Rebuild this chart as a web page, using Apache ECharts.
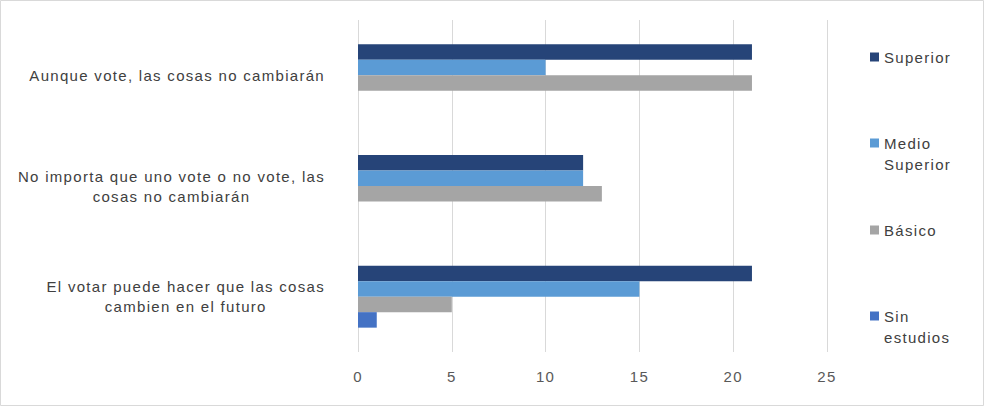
<!DOCTYPE html>
<html>
<head>
<meta charset="utf-8">
<script src="https://cdn.jsdelivr.net/npm/echarts@6/dist/echarts.min.js"></script>
<style>
html,body{margin:0;padding:0;background:#fff;}
#chart{width:984px;height:406px;}
#chart svg text{letter-spacing:1.3px;}
</style>
</head>
<body>
<div id="chart"></div>
<script>
const categories = [
  'Aunque vote, las cosas no cambiarán',
  'No importa que uno vote o no vote, las\ncosas no cambiarán',
  'El votar puede hacer que las cosas\ncambien en el futuro'
];
const seriesNames = ['Superior', 'Medio Superior', 'Básico', 'Sin estudios'];
const superior = [21, 12, 21];
const medioSuperior = [10, 12, 15];
const basico = [21, 13, 5];
const sinEstudios = [0, 0, 1];
const xTicks = [0, 5, 10, 15, 20, 25];
const colors = ['#264478', '#5B9BD5', '#A5A5A5', '#4472C4'];

const FONT = '"Liberation Sans", Arial, sans-serif';
const TXT = '#404040';
const AXT = '#595959';
const SPACING = 1.3;
const values = [superior, medioSuperior, basico, sinEstudios];

// make text measurement aware of the letter spacing applied by CSS
const mctx = document.createElement('canvas').getContext('2d');
if (echarts.setPlatformAPI) {
  echarts.setPlatformAPI({
    measureText: function (text, font) {
      mctx.font = font || '12px sans-serif';
      const m = mctx.measureText(text);
      return {width: m.width + (text ? text.length * SPACING : 0)};
    }
  });
}

// legend markers: square centred for one-line entries, at the first line for two-line entries
const ICON_MID = 'path://M0,0M9,30M0,10.5h9v9h-9z';
const ICON_TOP = 'path://M0,0M9,30M0,0h9v9h-9z';

function legendBlock(names, top) {
  return {
    orient: 'vertical',
    left: 870, top: top, padding: 0,
    itemWidth: 9, itemHeight: 30, itemGap: 60.5,
    data: names.map(n => ({name: n, icon: n.indexOf(' ') > 0 ? ICON_TOP : ICON_MID})),
    textStyle: {
      fontFamily: FONT, fontSize: 15, color: TXT,
      width: 80, overflow: 'break', lineHeight: 21
    }
  };
}

const chart = echarts.init(document.getElementById('chart'), null, {renderer: 'svg'});
chart.setOption({
  animation: false,
  backgroundColor: '#fff',
  textStyle: {fontFamily: FONT},
  graphic: [{
    type: 'rect', silent: true, z: 100,
    shape: {x: 0.5, y: 0.5, width: 983, height: 405},
    style: {fill: 'none', stroke: '#D9D9D9', lineWidth: 1}
  }],
  grid: {left: 358, right: 157, top: 20, bottom: 54, containLabel: false},
  legend: [
    legendBlock(seriesNames.slice(0, 2), 42),
    legendBlock(seriesNames.slice(2, 4), 215)
  ],
  xAxis: {
    type: 'value', min: xTicks[0], max: xTicks[xTicks.length - 1], interval: 5,
    axisLine: {show: false}, axisTick: {show: false},
    splitLine: {lineStyle: {color: '#D9D9D9', width: 1}},
    axisLabel: {fontFamily: FONT, fontSize: 15, color: AXT, margin: 16}
  },
  yAxis: {
    type: 'category', data: categories, inverse: true,
    axisLine: {show: false}, axisTick: {show: false},
    axisLabel: {
      margin: 33, lineHeight: 20,
      formatter: v => v.split('\n').map(l => '{c|' + l + '}').join('\n'),
      rich: {c: {align: 'center', fontFamily: FONT, fontSize: 15, color: TXT, lineHeight: 20}}
    }
  },
  series: seriesNames.map((n, i) => ({
    name: n, type: 'bar', data: values[i],
    barGap: '0%', barCategoryGap: '44%',
    itemStyle: {color: colors[i]}
  }))
});
</script>
</body>
</html>
